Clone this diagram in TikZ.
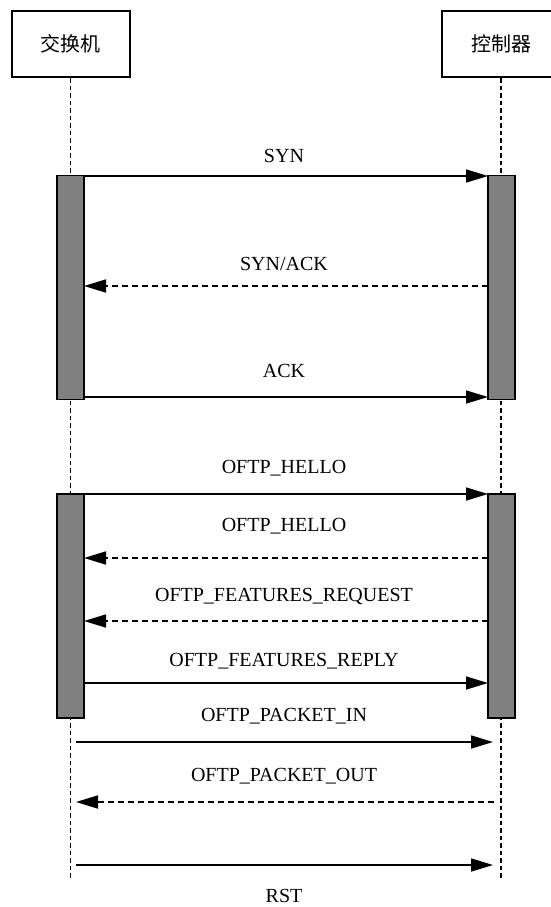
\documentclass[tikz,border=0pt]{standalone}
\usepackage{fontspec}
\setmainfont{Liberation Serif}
\newfontfamily\cjk{Noto Sans CJK SC}
\usetikzlibrary{arrows.meta}
\tikzset{
  actor/.style={draw, line width=2pt, minimum width=118pt, minimum height=66pt,
    inner sep=0pt, font=\cjk\fontsize{20}{24}\selectfont},
  lifeline/.style={line width=1.6pt, dash pattern=on 4.5pt off 3pt},
  bar/.style={draw, fill=black!50, line width=1.7pt, minimum width=27pt, inner sep=0pt},
  msg/.style={line width=1.6pt, -{Triangle[length=22pt,width=13pt]}},
  reply/.style={msg, dash pattern=on 6pt off 4pt},
  lbl/.style={anchor=base, inner sep=0pt, font=\fontsize{20}{24}\selectfont}
}
\begin{document}
\begin{tikzpicture}[x=1pt, y=-1pt]
\useasboundingbox (0,0) rectangle (550,907);

% participants
\node[actor] (sw)  at (70.5,44) {交换机};
\node[actor, minimum width=124pt, text width=118pt, align=center] (ctl) at (504,44) {\hspace*{-6pt}控制器};

% lifelines
\coordinate (swEnd)  at (70.5,878);
\coordinate (ctlEnd) at (501,878);
\draw[lifeline] (sw.south)  -- (swEnd);
\draw[lifeline] (ctl.south -| ctlEnd) -- (ctlEnd);

% activation bars
\node[bar, minimum height=224pt] (a1) at (70.5,287.5) {};
\node[bar, minimum height=224pt] (b1) at (501.5,287.5) {};
\node[bar, minimum height=224pt] (a2) at (70.5,606) {};
\node[bar, minimum height=224pt] (b2) at (501.5,606) {};

% message end points
\coordinate (s1) at (84,176);   \coordinate (c1) at (488,176);
\coordinate (s2) at (84,286);   \coordinate (c2) at (488,286);
\coordinate (s3) at (84,397);   \coordinate (c3) at (488,397);
\coordinate (s4) at (84,494);   \coordinate (c4) at (488,494);
\coordinate (s5) at (84,558);   \coordinate (c5) at (488,558);
\coordinate (s6) at (84,621);   \coordinate (c6) at (488,621);
\coordinate (s7) at (84,683);   \coordinate (c7) at (488,683);
\coordinate (s8) at (76,742);   \coordinate (c8) at (493,742);
\coordinate (s9) at (76,802);   \coordinate (c9) at (494,802);
\coordinate (s10) at (76,865);  \coordinate (c10) at (493,865);

% handshake
\draw[msg]   (s1) -- (c1);
\draw[reply] (c2) -- (s2);
\draw[msg]   (s3) -- (c3);
% OpenFlow exchange
\draw[msg]   (s4) -- (c4);
\draw[reply] (c5) -- (s5);
\draw[reply] (c6) -- (s6);
\draw[msg]   (s7) -- (c7);
\draw[msg]   (s8) -- (c8);
\draw[reply] (c9) -- (s9);
\draw[msg]   (s10) -- (c10);

% labels
\node[lbl] (l1)  at (284,162) {SYN};
\node[lbl] (l2)  at (284,270) {SYN/ACK};
\node[lbl] (l3)  at (284,377) {ACK};
\node[lbl] (l4)  at (284,473) {OFTP\_HELLO};
\node[lbl] (l5)  at (284,531) {OFTP\_HELLO};
\node[lbl] (l6)  at (284,601) {OFTP\_FEATURES\_REQUEST};
\node[lbl] (l7)  at (284,666) {OFTP\_FEATURES\_REPLY};
\node[lbl] (l8)  at (284,721) {OFTP\_PACKET\_IN};
\node[lbl] (l9)  at (284,781) {OFTP\_PACKET\_OUT};
\node[lbl] (l10) at (284,902) {RST};
\end{tikzpicture}
\end{document}
